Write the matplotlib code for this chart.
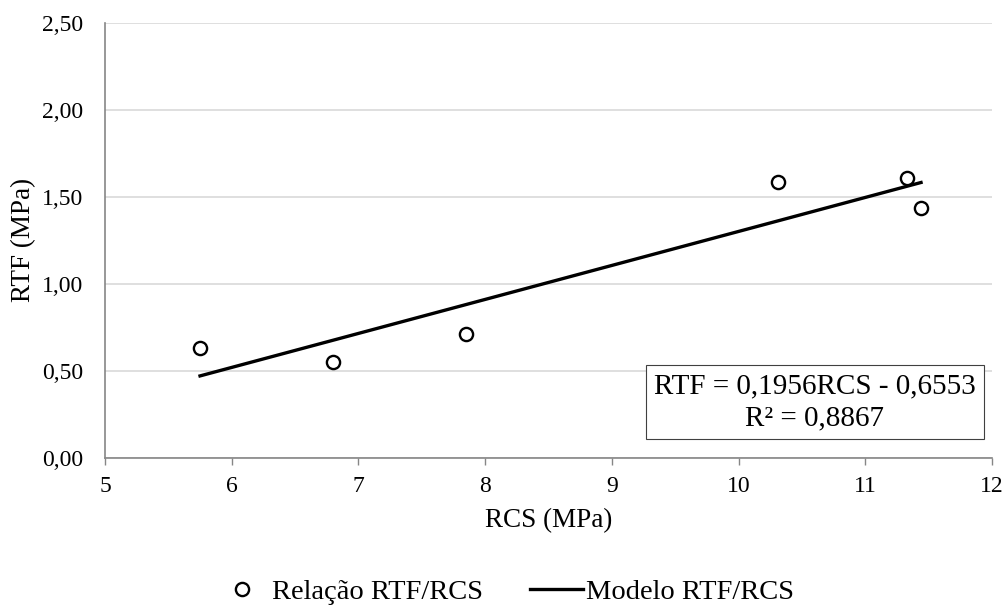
import numpy as np
import matplotlib
matplotlib.use('Agg')
import matplotlib.pyplot as plt

plt.rcParams['font.family'] = ['Liberation Serif', 'DejaVu Serif']

# data
rcs = [5.75, 6.80, 7.85, 10.31, 11.33, 11.44]
rtf = [0.632, 0.55, 0.712, 1.587, 1.606, 1.437]
slope = 0.1956
intercept = -0.6553
eq_text = 'RTF = 0,1956RCS - 0,6553\nR² = 0,8867'
x_ticks = [5, 6, 7, 8, 9, 10, 11, 12]
y_ticks = [0.0, 0.5, 1.0, 1.5, 2.0, 2.5]

fig = plt.figure(figsize=(10.08, 6.09), dpi=100)
ax = fig.add_axes([105 / 1008, 1 - 457.5 / 609, (992 - 105) / 1008, (457.5 - 23) / 609])

ax.plot(rcs, rtf, linestyle='none', marker='o', markersize=9.5,
        markerfacecolor='white', markeredgecolor='black', markeredgewidth=1.7,
        label='Relação RTF/RCS', zorder=3)

x_fit = np.array([min(rcs), max(rcs)])
ax.plot(x_fit, slope * x_fit + intercept, color='black', linewidth=2.4,
        label='Modelo RTF/RCS', zorder=2)

ax.set_xlim(5, 12)
ax.set_ylim(0, 2.5)
ax.set_xticks(x_ticks)
ax.set_yticks(y_ticks)
ax.set_yticklabels([f'{v:.2f}'.replace('.', ',') for v in y_ticks])
ax.grid(axis='y', color='#d9d9d9', linewidth=1.2, zorder=0)
ax.set_axisbelow(True)

for side in ['top', 'right']:
    ax.spines[side].set_visible(False)
for side in ['left', 'bottom']:
    ax.spines[side].set_color('#868686')
    ax.spines[side].set_linewidth(1.2)
ax.tick_params(axis='x', direction='out', length=5, color='#868686', width=1.0,
               labelsize=17, pad=8)
ax.tick_params(axis='y', length=0, labelsize=17, pad=16)

ax.set_xlabel('RCS (MPa)', fontsize=19.5, labelpad=8)
ax.set_ylabel('RTF (MPa)', fontsize=19.5, labelpad=4)

ax.text(0.80, 0.128, eq_text, transform=ax.transAxes, fontsize=21,
        ha='center', va='center', linespacing=1.3,
        bbox=dict(boxstyle='square,pad=0.28', facecolor='white',
                  edgecolor='#404040', linewidth=0.8))

fig.legend(loc='center', bbox_to_anchor=(0.501, 1 - 592 / 609), ncol=2,
           frameon=False, fontsize=20.5, handlelength=1.86, handletextpad=0.12,
           columnspacing=1.65, borderpad=0.1)

fig.savefig('out.png', dpi=100)
